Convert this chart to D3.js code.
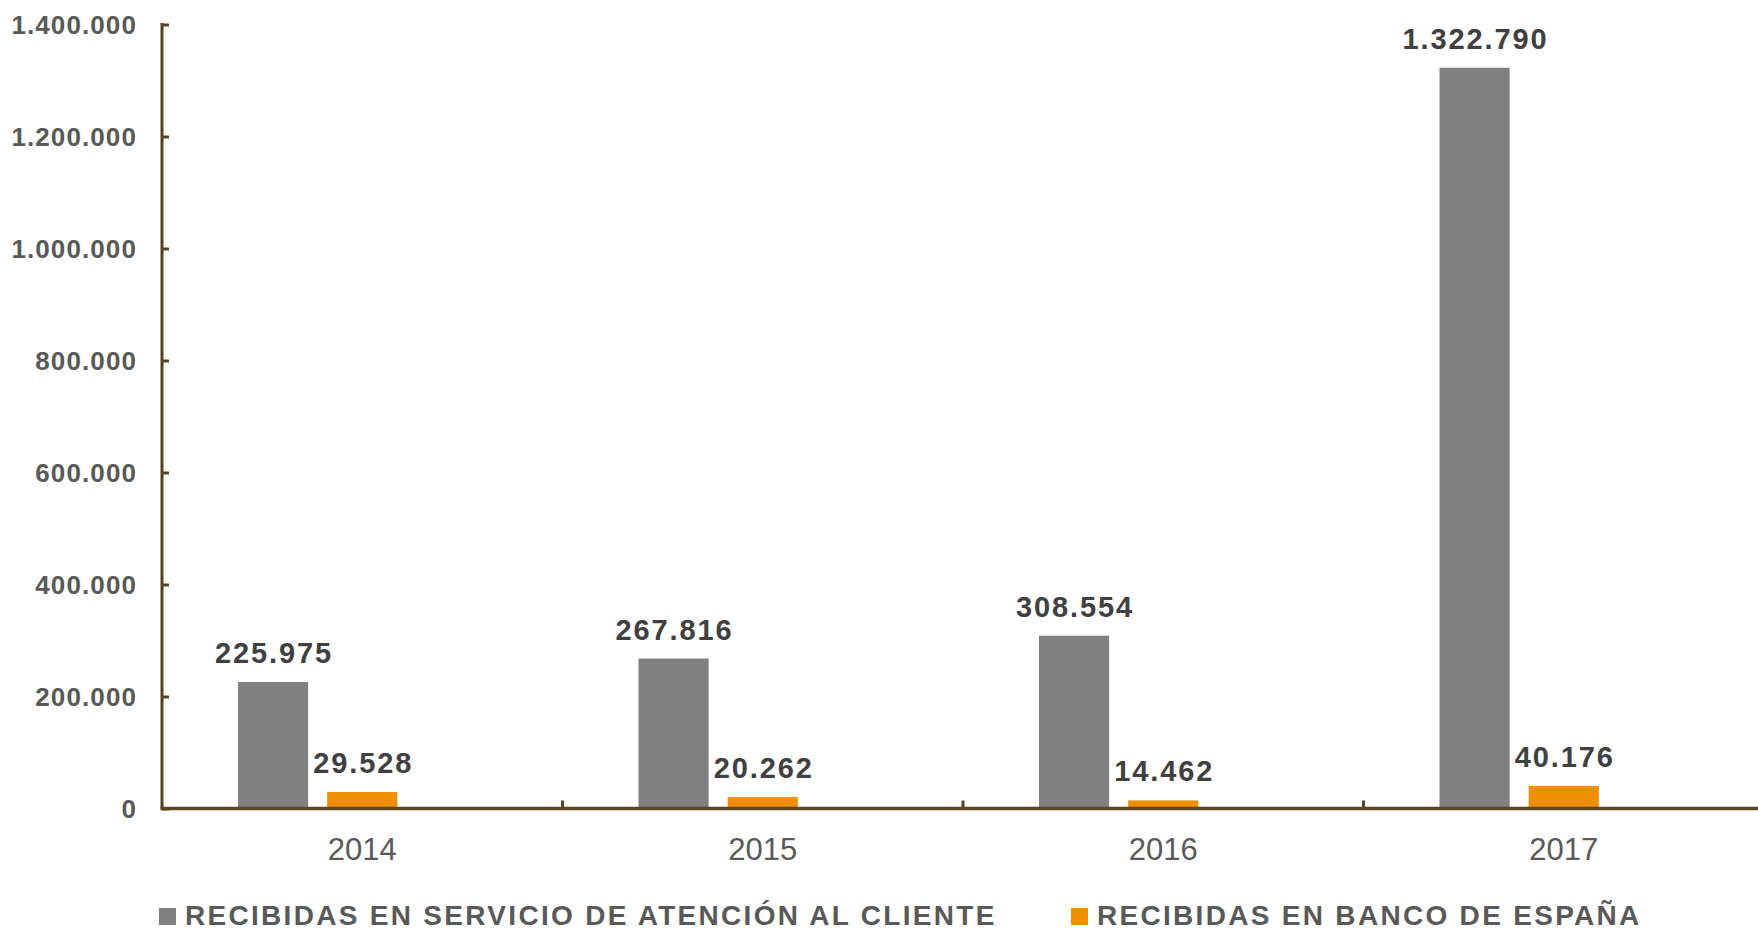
<!DOCTYPE html>
<html>
<head>
<meta charset="utf-8">
<script src="https://cdn.jsdelivr.net/npm/d3@7"></script>
<style>
  body { margin: 0; background: #fff; }
  text { font-family: "Liberation Sans", Arial, sans-serif; }
</style>
</head>
<body>
<div id="chart"></div>
<script>
const years = ['2014', '2015', '2016', '2017']
const servicioCliente = [225975, 267816, 308554, 1322790]
const bancoEspana = [29528, 20262, 14462, 40176]
const seriesNames = ['RECIBIDAS EN SERVICIO DE ATENCIÓN AL CLIENTE', 'RECIBIDAS EN BANCO DE ESPAÑA']
const yTicks = [0, 200000, 400000, 600000, 800000, 1000000, 1200000, 1400000]

const width = 1758
const height = 931
const colors = ['#808080', '#f08f00']
const axisColor = '#574420'

const svg = d3.select('#chart').append('svg')
              .attr('width', width)
              .attr('height', height)

const x0 = d3.scaleBand()
             .domain(years)
             .range([162, 162 + 4 * 400.5])
// excel leaves a third (empty) slot in each group
const x1 = d3.scaleBand()
             .domain([0, 1, 2])
             .range([76, 324.5])
             .paddingInner(0.2135)
const y = d3.scaleLinear()
            .domain([0, 1400000])
            .range([808.5, 24.5])

const fmt = v => d3.format(',')(v).replace(/,/g, '.')

const data = years.map((yr, i) => ({ year: yr, values: [servicioCliente[i], bancoEspana[i]] }))

const groups = svg.selectAll('g.grp')
                  .data(data)
                  .join('g')
                  .attr('class', 'grp')
                  .attr('transform', d => `translate(${x0(d.year)},0)`)

groups.selectAll('rect')
      .data(d => d.values)
      .join('rect')
      .attr('x', (d, i) => x1(i))
      .attr('width', x1.bandwidth())
      .attr('y', d => y(d))
      .attr('height', d => y(0) - y(d))
      .attr('fill', (d, i) => colors[i])

groups.selectAll('text.val')
      .data(d => d.values)
      .join('text')
      .attr('class', 'val')
      .attr('x', (d, i) => x1(i) + x1.bandwidth() / 2 + 1)
      .attr('y', d => y(d) - 19)
      .attr('text-anchor', 'middle')
      .attr('font-size', 29)
      .attr('font-weight', 'bold')
      .attr('letter-spacing', 1.9)
      .attr('fill', '#404040')
      .text(d => fmt(d))

// y axis
const yAxis = svg.append('g')
                 .attr('transform', 'translate(162,0)')
                 .call(d3.axisRight(y).tickValues(yTicks).tickSize(7).tickFormat(''))
yAxis.select('.domain').remove()
yAxis.selectAll('.tick line').attr('stroke', axisColor).attr('stroke-width', 3)
svg.append('line')
   .attr('x1', 162).attr('x2', 162)
   .attr('y1', y(1400000) - 1.5).attr('y2', y(0))
   .attr('stroke', axisColor).attr('stroke-width', 3)

svg.append('g').selectAll('text')
   .data(yTicks)
   .join('text')
   .attr('x', 137)
   .attr('y', d => y(d) + 9)
   .attr('text-anchor', 'end')
   .attr('font-size', 26)
   .attr('font-weight', 'bold')
   .attr('letter-spacing', 1.1)
   .attr('fill', '#595959')
   .text(d => fmt(d))

// x axis
svg.append('line')
   .attr('x1', 160.5).attr('x2', width)
   .attr('y1', y(0)).attr('y2', y(0))
   .attr('stroke', axisColor).attr('stroke-width', 3.5)
svg.append('g').selectAll('line')
   .data(years.slice(1))
   .join('line')
   .attr('x1', d => x0(d)).attr('x2', d => x0(d))
   .attr('y1', y(0)).attr('y2', y(0) - 8)
   .attr('stroke', axisColor).attr('stroke-width', 3)

svg.append('g').selectAll('text')
   .data(years)
   .join('text')
   .attr('x', d => x0(d) + x0.bandwidth() / 2)
   .attr('y', 860)
   .attr('text-anchor', 'middle')
   .attr('font-size', 31)
   .attr('fill', '#595959')
   .text(d => d)

// legend
const legendX = [159, 1071]
const legend = svg.append('g').selectAll('g')
                  .data(seriesNames)
                  .join('g')
                  .attr('transform', (d, i) => `translate(${legendX[i]},0)`)
legend.append('rect')
      .attr('y', 908).attr('width', 17).attr('height', 17)
      .attr('fill', (d, i) => colors[i])
legend.append('text')
      .attr('x', 26).attr('y', 925)
      .attr('font-size', 28)
      .attr('font-weight', 'bold')
      .attr('letter-spacing', 2.3)
      .attr('fill', '#595959')
      .text(d => d)
</script>
</body>
</html>
